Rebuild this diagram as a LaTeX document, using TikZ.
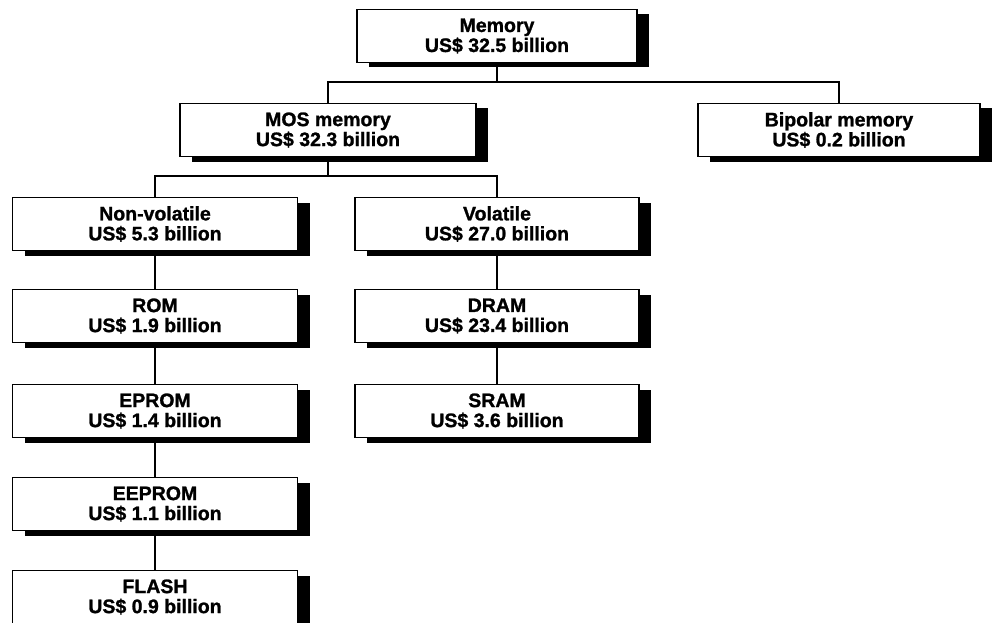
\documentclass[tikz,border=0pt]{standalone}
\usepackage{fontspec}
\setmainfont{Liberation Sans}[FakeBold=1.2]
\usetikzlibrary{shadows}
\begin{document}
\begin{tikzpicture}[x=1pt,y=-1pt,
  box/.style={draw, fill=white, line width=1.6pt, rectangle, inner sep=0pt,
    minimum height=53pt, align=center,
    font=\bfseries\fontsize{19.5}{20}\selectfont,
    drop shadow={shadow xshift=12pt, shadow yshift=-5pt, fill=black, opacity=1}},
  conn/.style={line width=1.8pt}]
\useasboundingbox (0,0) rectangle (992,623);
% top
\node[box, minimum width=280pt] (mem) at (497,36) {Memory\\US\$ 32.5 billion};
\node[box, minimum width=296pt] (mos) at (328,130) {MOS memory\\US\$ 32.3 billion};
\node[box, minimum width=282pt] (bip) at (839,130) {Bipolar memory\\US\$ 0.2 billion};
% left column
\node[box, minimum width=285pt] (nv) at (155,224) {Non-volatile\\US\$ 5.3 billion};
\node[box, minimum width=285pt] (rom) at (155,316) {ROM\\US\$ 1.9 billion};
\node[box, minimum width=285pt] (eprom) at (155,411) {EPROM\\US\$ 1.4 billion};
\node[box, minimum width=285pt] (eeprom) at (155,504) {EEPROM\\US\$ 1.1 billion};
\node[box, minimum width=285pt] (flash) at (155,597) {FLASH\\US\$ 0.9 billion};
% right column
\node[box, minimum width=284pt] (vol) at (497,224) {Volatile\\US\$ 27.0 billion};
\node[box, minimum width=284pt] (dram) at (497,316) {DRAM\\US\$ 23.4 billion};
\node[box, minimum width=284pt] (sram) at (497,411) {SRAM\\US\$ 3.6 billion};
% junctions
\coordinate (j1) at (497,82);
\coordinate (j2) at (328,176);
% connectors
\draw[conn] (mem.south) -- (j1);
\draw[conn] (mos.north) -- (mos.north |- j1) -- (bip.north |- j1) -- (bip.north);
\draw[conn] (mos.south) -- (j2);
\draw[conn] (nv.north) -- (nv.north |- j2) -- (vol.north |- j2) -- (vol.north);
\draw[conn] (nv.south) -- (rom.north);
\draw[conn] (rom.south) -- (eprom.north);
\draw[conn] (eprom.south) -- (eeprom.north);
\draw[conn] (eeprom.south) -- (flash.north);
\draw[conn] (vol.south) -- (dram.north);
\draw[conn] (dram.south) -- (sram.north);
\end{tikzpicture}
\end{document}
